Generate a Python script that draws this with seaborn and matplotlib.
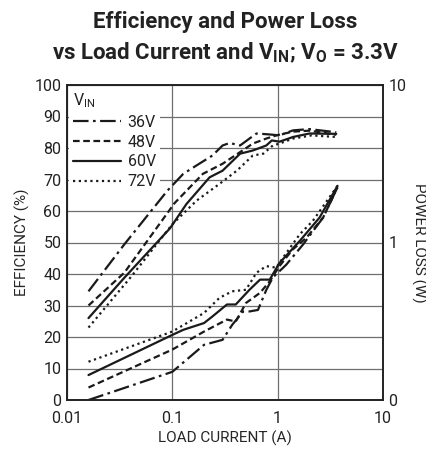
import pandas as pd
import numpy as np
import matplotlib
matplotlib.use("Agg")
import matplotlib.pyplot as plt
import seaborn as sns
from matplotlib.lines import Line2D

# ==============================
# Data
# ==============================

vin_labels = ["36V", "48V", "60V", "72V"]

# efficiency (%) vs load current (A)
eff_36_x = [0.016, 0.035, 0.09, 0.127, 0.18, 0.24, 0.3, 0.35, 0.44, 0.54, 0.63, 0.84, 1.04, 1.4, 2.0, 3.6]
eff_36_y = [34.5, 49.4, 66.5, 71.8, 75, 77.6, 80.8, 81.6, 80.8, 83, 84.6, 84.3, 84, 85.6, 86, 85]

eff_48_x = [0.016, 0.035, 0.105, 0.195, 0.3, 0.44, 0.58, 0.78, 0.97, 1.4, 2.0, 3.6]
eff_48_y = [30, 40.4, 62.5, 71.8, 75, 78.7, 81.4, 83, 84, 85.2, 85.5, 84.2]

eff_60_x = [0.016, 0.035, 0.095, 0.136, 0.226, 0.3, 0.44, 0.58, 0.78, 0.88, 1.04, 1.4, 2.0, 3.6]
eff_60_y = [26, 38.8, 54.5, 62.2, 70.7, 72.8, 78.2, 79.2, 80.8, 82.4, 82, 83.5, 84.6, 84.5]

eff_72_x = [0.016, 0.041, 0.1, 0.17, 0.28, 0.41, 0.58, 0.73, 0.9, 1.04, 1.4, 2.1, 3.6]
eff_72_y = [23, 39.3, 55.8, 63.3, 68.6, 72.8, 77.6, 78.2, 80.8, 81.4, 83, 84, 83.5]

# power loss (W) vs load current (A)
pl_36_x = [0.016, 0.1, 0.2, 0.3, 0.37, 0.47, 0.54, 0.65, 0.78, 0.9, 1.2, 1.74, 2.7, 3.7]
pl_36_y = [0.10, 0.151, 0.224, 0.241, 0.30, 0.365, 0.365, 0.373, 0.50, 0.60, 0.72, 0.97, 1.44, 2.24]

pl_48_x = [0.016, 0.1, 0.2, 0.33, 0.4, 0.5, 0.68, 0.84, 1.04, 1.39, 1.87, 2.7, 3.7]
pl_48_y = [0.12, 0.209, 0.272, 0.324, 0.315, 0.413, 0.479, 0.567, 0.708, 0.904, 1.07, 1.44, 2.24]

pl_60_x = [0.016, 0.1, 0.127, 0.2, 0.24, 0.33, 0.4, 0.54, 0.68, 0.84, 1.04, 1.62, 2.5, 3.7]
pl_60_y = [0.144, 0.259, 0.279, 0.308, 0.339, 0.404, 0.404, 0.501, 0.581, 0.581, 0.741, 1.023, 1.44, 2.29]

pl_72_x = [0.016, 0.1, 0.2, 0.28, 0.37, 0.5, 0.63, 0.78, 0.97, 1.12, 1.62, 2.16, 3.7]
pl_72_y = [0.175, 0.272, 0.357, 0.445, 0.49, 0.501, 0.643, 0.708, 0.692, 0.798, 1.127, 1.374, 2.29]

x_ticks = [0.01, 0.1, 1, 10]
x_ticklabels = ["0.01", "0.1", "1", "10"]
eff_ticks = list(range(0, 101, 10))
pl_ticks = [0.1, 1, 10]
pl_ticklabels = ["0", "1", "10"]

# ==============================
# Long-format tables
# ==============================

def to_frame(xs, ys, value):
    rows = []
    for lab, x, y in zip(vin_labels, xs, ys):
        rows.append(pd.DataFrame({"current": x, value: y, "vin": lab}))
    return pd.concat(rows, ignore_index=True)

eff_df = to_frame([eff_36_x, eff_48_x, eff_60_x, eff_72_x],
                  [eff_36_y, eff_48_y, eff_60_y, eff_72_y], "eff")
pl_df = to_frame([pl_36_x, pl_48_x, pl_60_x, pl_72_x],
                 [pl_36_y, pl_48_y, pl_60_y, pl_72_y], "loss")

# ==============================
# Styling
# ==============================

sns.set_style("white")
FONT = ["Roboto", "DejaVu Sans"]
plt.rcParams.update({
    "font.family": FONT,
    "mathtext.fontset": "custom",
    "mathtext.rm": "Roboto",
    "mathtext.bf": "Roboto:bold",
    "axes.edgecolor": "#222222",
    "text.color": "#222222",
    "xtick.color": "#222222",
    "ytick.color": "#222222",
})

line_dashes = {
    "36V": (7, 2, 1.2, 2),
    "48V": (3, 1.6),
    "60V": "",
    "72V": (1, 1.6),
}
LW = 1.6
INK = "#1a1a1a"
FS_TICK = 11.5
FS_LABEL = 11

# ==============================
# Plot
# ==============================

fig = plt.figure(figsize=(4.26, 4.5), dpi=100)
ax = fig.add_axes([67 / 426, 1 - 400 / 450, 316 / 426, 315 / 450])

sns.lineplot(data=eff_df, x="current", y="eff", style="vin", dashes=line_dashes,
             color=INK, linewidth=LW, sort=True, estimator=None, legend=False, ax=ax)
ax.set_xscale("log")
ax.set_xlim(0.01, 10)
ax.set_ylim(0, 100)
ax.set_xticks(x_ticks)
ax.set_xticklabels(x_ticklabels)
ax.xaxis.set_minor_locator(matplotlib.ticker.NullLocator())
ax.set_yticks(eff_ticks)
ax.grid(True, which="major", color="#6f6f6f", linewidth=0.9)
ax.tick_params(axis="y", labelsize=FS_TICK, length=0, pad=4)
ax.tick_params(axis="x", labelsize=FS_TICK, length=0, pad=8)
ax.set_xlabel("LOAD CURRENT (A)", fontsize=FS_LABEL, labelpad=3)
ax.set_ylabel("EFFICIENCY (%)", fontsize=FS_LABEL, labelpad=3)

ax2 = ax.twinx()
sns.lineplot(data=pl_df, x="current", y="loss", style="vin", dashes=line_dashes,
             color=INK, linewidth=LW, sort=True, estimator=None, legend=False, ax=ax2)
ax2.set_yscale("log")
ax2.set_ylim(0.1, 10)
ax2.set_yticks(pl_ticks)
ax2.set_yticklabels(pl_ticklabels)
ax2.yaxis.set_minor_locator(matplotlib.ticker.NullLocator())
ax2.tick_params(labelsize=FS_TICK, length=0, pad=4)
ax2.set_ylabel("POWER LOSS (W)", fontsize=FS_LABEL, rotation=270, labelpad=14)
ax2.set_xlim(0.01, 10)

for a in (ax, ax2):
    for s in a.spines.values():
        s.set_linewidth(1.2)
        s.set_color("#222222")

# legend (white box hides the grid behind it, as in the original)
handles = [Line2D([0], [0], color=INK, linewidth=LW,
                  dashes=line_dashes[lab] if line_dashes[lab] else (None, None),
                  linestyle="-" if not line_dashes[lab] else "--")
           for lab in vin_labels]
leg = ax.legend(handles, vin_labels, title=r"V$_{\mathregular{IN}}$", loc="upper left",
                bbox_to_anchor=(0.0, 1.0), frameon=True, facecolor="white",
                edgecolor="none", framealpha=1, fancybox=False, fontsize=FS_TICK,
                title_fontsize=FS_TICK, handlelength=3.0, handletextpad=0.4,
                labelspacing=0.3, borderaxespad=0.15, borderpad=0.25, alignment="left")
leg.set_zorder(5)

fig.text(225 / 426, 1 - 22 / 450, "Efficiency and Power Loss",
         ha="center", va="center", fontsize=16, fontweight="bold")
fig.text(225 / 426, 1 - 53 / 450,
         r"vs Load Current and $\mathbf{V_{IN}}$; $\mathbf{V_{O}}$ = 3.3V",
         ha="center", va="center", fontsize=16, fontweight="bold")

fig.savefig("out.png", dpi=100)
